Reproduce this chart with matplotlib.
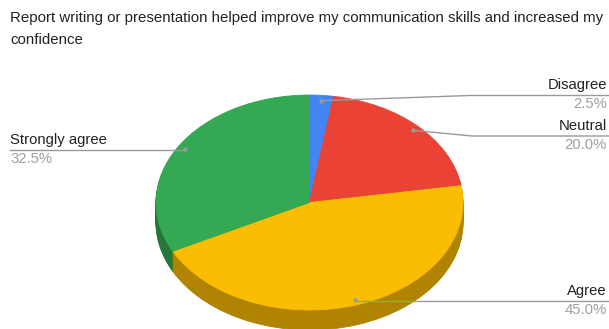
import matplotlib
matplotlib.use("Agg")
import matplotlib.pyplot as plt
import numpy as np
from matplotlib.transforms import Affine2D

# ---- data ----
categories = ["Disagree", "Neutral", "Agree", "Strongly agree"]
values = [2.5, 20.0, 45.0, 32.5]
pct_labels = ["2.5%", "20.0%", "45.0%", "32.5%"]
title_lines = ["Report writing or presentation helped improve my communication skills and increased my",
               "confidence"]

# ---- style ----
top_colors = ["#4285F4", "#EA4335", "#FBBC04", "#34A853"]
side_colors = ["#2E5DAB", "#A32F25", "#B08400", "#24763A"]

W, H = 609, 329
fig = plt.figure(figsize=(W / 100, H / 100), dpi=100)
ax = fig.add_axes([0, 0, 1, 1])

cx, cy = 309.5, H - 202.5     # pie center (pixel coords, y up)
rx, ry = 153.5, 107.5         # ellipse radii
depth = 20

def pie_layer(colors, dy):
    wedges, _ = ax.pie(values, colors=colors, startangle=90, counterclock=False,
                       radius=1.0, center=(0, 0),
                       wedgeprops=dict(linewidth=0.6, antialiased=True))
    tr = Affine2D().scale(rx, ry).translate(cx, cy - dy) + ax.transData
    for w, c in zip(wedges, colors):
        w.set_edgecolor(c)
        w.set_transform(tr)
    return wedges

for d in np.arange(depth, 0, -1):
    pie_layer(side_colors, d)
pie_layer(top_colors, 0)

ax.set_xlim(0, W)
ax.set_ylim(0, H)
ax.set_aspect("auto")
ax.axis("off")

# ---- labels & leader lines ----
frac = np.array(values) / np.sum(values)
cum = np.cumsum(frac)
mids = cum - frac / 2
ang = np.deg2rad(mids * 360)
r_dot = 0.95
dot_x = cx + rx * r_dot * np.sin(ang)
dot_y = cy + ry * r_dot * np.cos(ang)

line_c = "#9a9a9a"
name_c = "#222222"
pct_c = "#a0a0a0"
fs = 10.7
font = "Liberation Sans"

# leader line y positions (image coords -> mpl)
line_y = [H - 95.5, H - 136, H - 300.5, H - 150]
knee_x = [470, 472, None, None]

for i, cat in enumerate(categories):
    ly = line_y[i]
    ax.plot(dot_x[i], dot_y[i], "o", ms=3.2, color=line_c, mec="none", zorder=5)
    if i in (0, 1):
        ax.plot([dot_x[i], knee_x[i], W], [dot_y[i], ly, ly], color=line_c, lw=1, zorder=4)
    elif i == 2:
        ax.plot([dot_x[i], W], [ly, ly], color=line_c, lw=1, zorder=4)
    else:
        ax.plot([10, dot_x[i]], [ly, ly], color=line_c, lw=1, zorder=4)
    if i < 3:
        x, ha = 607, "right"
    else:
        x, ha = 10, "left"
    ax.text(x, ly + 3, cat, ha=ha, va="bottom", fontsize=fs, color=name_c, family=font)
    ax.text(x, ly - 2, pct_labels[i], ha=ha, va="top", fontsize=fs, color=pct_c, family=font)

for k, line in enumerate(title_lines):
    ax.text(10, H - 22 - 21.5 * k, line, ha="left", va="baseline", fontsize=10.8,
            color=name_c, family=font)

fig.savefig("out.png", dpi=100)
